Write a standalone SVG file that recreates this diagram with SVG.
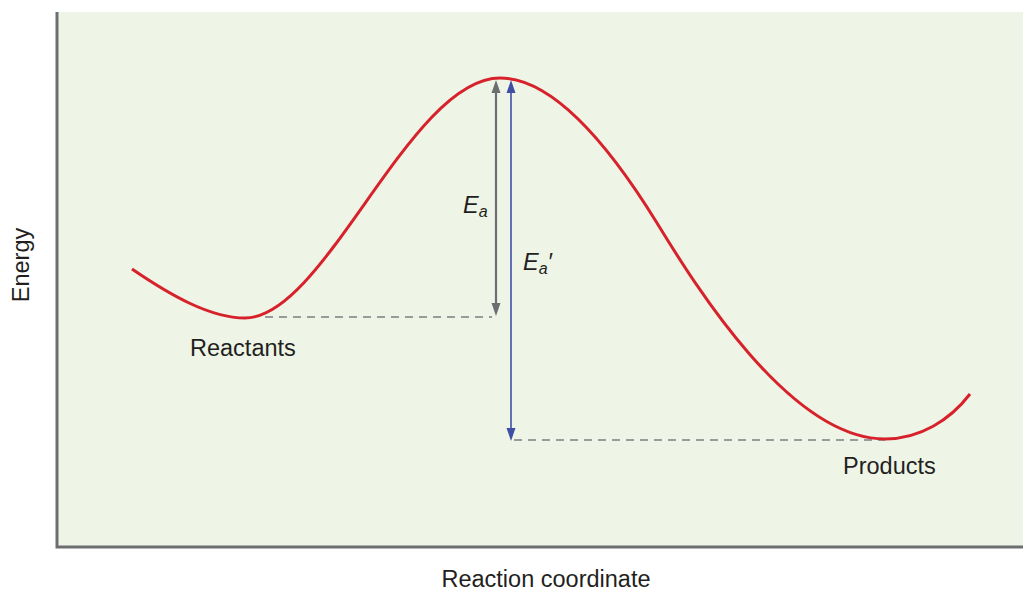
<svg xmlns="http://www.w3.org/2000/svg" width="1023" height="593" viewBox="0 0 1023 593">
<style>
.lbl{font-family:"Liberation Sans",Arial,sans-serif;font-size:23.5px;fill:#231f20}
.dash{stroke:#7b7d80;stroke-width:1.5;stroke-dasharray:8,6;fill:none}
</style>
<rect x="0" y="0" width="1023" height="593" fill="#fff"/>
<rect x="57" y="12" width="966" height="535" fill="#eef5e7"/>
<g id="axes">
<path d="M57,12 V547 H1023" fill="none" stroke="#6d6e70" stroke-width="3"/>
</g>
<g id="connectors">
<path class="dash" d="M265,317 H492"/>
<path class="dash" d="M514,440 H885"/>
<line x1="496" y1="88" x2="496" y2="308" stroke="#6d6e70" stroke-width="2.2"/>
<polygon points="496,80 491.5,93 500.5,93" fill="#6d6e70"/>
<polygon points="496,316 491.5,303 500.5,303" fill="#6d6e70"/>
<line x1="511" y1="88" x2="511" y2="433" stroke="#3f4fa6" stroke-width="1.6"/>
<polygon points="511,80 506.5,93 515.5,93" fill="#3f4fa6"/>
<polygon points="511,441 506.5,428 515.5,428" fill="#3f4fa6"/>
</g>
<g id="curve">
<path d="M132,269 C170,295 210,318 245,318 C325,318 410,78 500,78 C560,78 620,163 657,223 C695,285 790,439 885,439 C920,439 950,420 970,394" fill="none" stroke="#d7222b" stroke-width="3"/>
</g>
<g id="labels">
<text class="lbl" x="463" y="213" font-style="italic" font-size="22">E<tspan font-size="16" dy="4">a</tspan></text>
<text class="lbl" x="523" y="270" font-style="italic" font-size="22">E<tspan font-size="16" dy="4">a</tspan><tspan dy="-4">′</tspan></text>
<text class="lbl" x="190" y="356">Reactants</text>
<text class="lbl" x="843" y="474">Products</text>
<text class="lbl" x="546" y="587" text-anchor="middle">Reaction coordinate</text>
<text class="lbl" x="29" y="265" text-anchor="middle" transform="rotate(-90 29 265)">Energy</text>
</g>
</svg>
